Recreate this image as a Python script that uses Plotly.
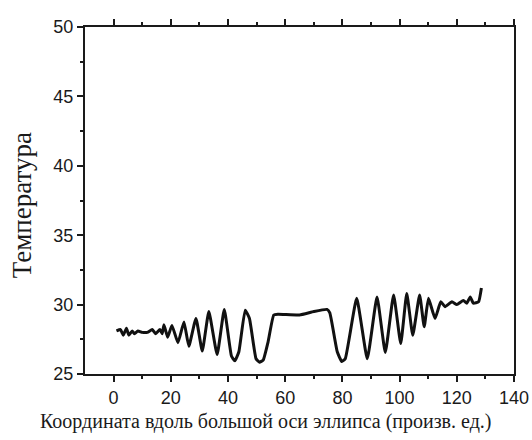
import plotly.graph_objects as go

# Polyline vertices
coord = [1, 2.4, 3.4, 4.5, 5.3, 6.5, 7.3, 8.5, 10, 11.8, 13.5, 14.7, 16.2, 17, 17.6,
         18.9, 20.4, 22.5, 24.6, 26.3, 28.8, 31.0, 33.3, 36.2, 38.7, 41.2, 42.4, 43.8,
         46.0, 47.5, 49.8, 51.0, 52.3, 54.0, 56.0, 57.5, 65.0, 70.0, 74.6, 75.6, 78.2,
         79.8, 81.0, 85.0, 88.7, 92.1, 95.0, 97.9, 100.4, 102.5, 104.6, 107.0, 108.6,
         110.1, 112.4, 114.4, 115.9, 118.3, 120.0, 122.3, 123.5, 124.7, 125.8, 127.6,
         128.6]
temp = [28.1, 28.2, 27.8, 28.3, 27.8, 28.1, 27.9, 28.1, 28.0, 28.0, 28.2, 27.9, 28.2, 27.9, 28.55,
        27.65, 28.5, 27.25, 28.75, 27.0, 29.0, 26.65, 29.5, 26.4, 29.65, 26.3, 25.95, 26.6,
        29.6, 29.0, 26.1, 25.85, 26.0, 27.3, 29.25, 29.3, 29.25, 29.5, 29.65, 29.4, 26.6,
        25.9, 26.1, 30.45, 26.1, 30.55, 26.55, 30.7, 27.2, 30.8, 27.8, 30.7, 28.4,
        30.45, 29.0, 30.2, 29.85, 30.2, 30.0, 30.3, 30.1, 30.55, 30.1, 30.2,
        31.2]

x_ticks = [0, 20, 40, 60, 80, 100, 120, 140]
x_minor = [10, 30, 50, 70, 90, 110, 130]
y_ticks = [25, 30, 35, 40, 45, 50]
y_minor = [27.5, 32.5, 37.5, 42.5, 47.5]

x_title = "Координата вдоль большой оси эллипса (произв. ед.)"
y_title = "Температура"

ink = "#1a1a1a"
fig = go.Figure()
fig.add_trace(go.Scatter(x=coord, y=temp, mode="lines",
                         line=dict(color="#111111", width=3, shape="spline", smoothing=0.4),
                         showlegend=False, hoverinfo="skip"))
# dummy trace to carry the top axis
fig.add_trace(go.Scatter(x=[x_ticks[0]], y=[None], xaxis="x2", mode="lines",
                         showlegend=False, hoverinfo="skip"))

axis_font = dict(family="Liberation Sans, Arial, sans-serif", size=18, color=ink)
title_font = dict(family="Liberation Serif, Times New Roman, serif", color=ink)

common = dict(ticks="outside", ticklen=6, tickwidth=2, tickcolor=ink, showline=True,
              linecolor=ink, linewidth=2, showgrid=False, zeroline=False, automargin=False)

fig.update_layout(
    xaxis=dict(range=[-10, 140], tickvals=x_ticks, tickfont=axis_font,
               minor=dict(tickvals=x_minor, ticks="outside", ticklen=3, tickwidth=2,
                          tickcolor=ink, showgrid=False), **common),
    xaxis2=dict(range=[-10, 140], tickvals=x_ticks, overlaying="x", side="top",
                showticklabels=False,
                minor=dict(tickvals=x_minor, ticks="outside", ticklen=3, tickwidth=2,
                           tickcolor=ink, showgrid=False), **common),
    yaxis=dict(range=[25, 50], tickvals=y_ticks, tickfont=axis_font, mirror=True,
               minor=dict(tickvals=y_minor, ticks="outside", ticklen=3, tickwidth=2,
                          tickcolor=ink, showgrid=False), **common),
    width=532, height=440, margin=dict(l=85, r=18, t=27, b=66),
    plot_bgcolor="white", paper_bgcolor="white",
    annotations=[
        dict(text=x_title, xref="paper", yref="paper", x=0.42, y=-0.136,
             xanchor="center", yanchor="middle", showarrow=False,
             font=dict(size=20, **title_font)),
        dict(text=y_title, xref="paper", yref="paper", x=-0.147, y=0.486,
             xanchor="center", yanchor="middle", textangle=-90, showarrow=False,
             font=dict(size=27, **title_font)),
    ],
)

fig.write_html("out.html", config={"displayModeBar": False},
               post_script="document.body.style.margin='0';")
